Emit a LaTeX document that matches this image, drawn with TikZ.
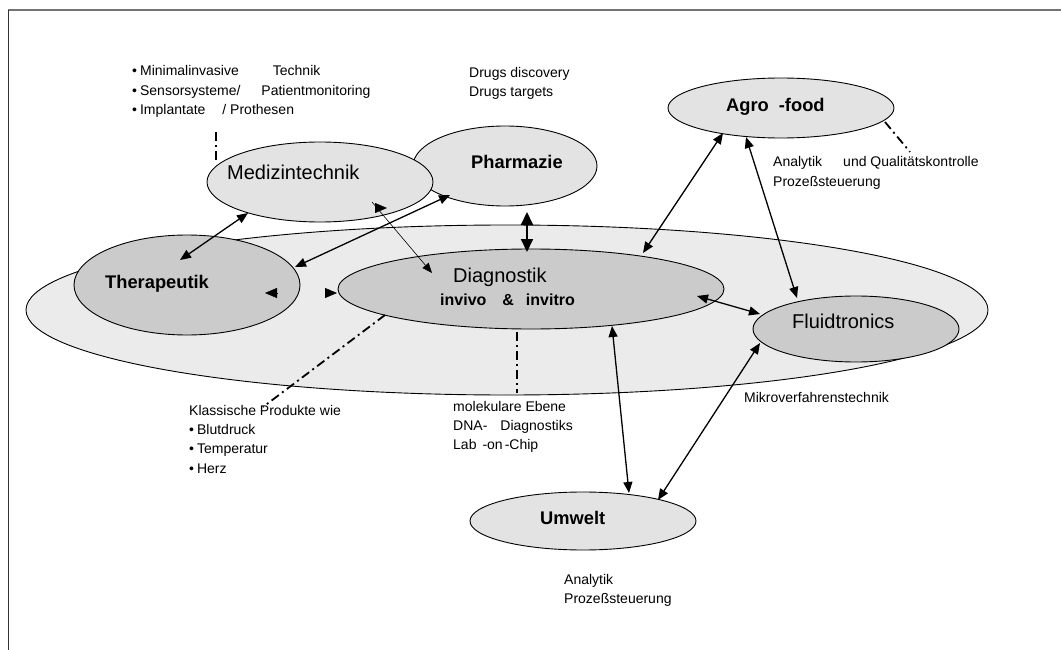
\documentclass[tikz,border=0pt]{standalone}
\usepackage{fontspec}
\setmainfont{Liberation Sans}
\usetikzlibrary{shapes.geometric,arrows.meta,calc}
\definecolor{fieldfill}{HTML}{EBEBEB}
\definecolor{dotdark}{HTML}{CBCBCB}
\definecolor{dotlight}{HTML}{E3E3E3}

\begin{document}
\begin{tikzpicture}[x=1pt,y=-1pt,
  blob/.style={ellipse, draw=black, line width=0.9pt, inner sep=0pt},
  darkblob/.style={blob, fill=dotdark},
  lightblob/.style={blob, fill=dotlight},
  lbl/.style={anchor=base west, inner sep=0pt, font=\fontsize{14}{17}\selectfont},
  bigtxt/.style={anchor=base west, inner sep=0pt, font=\fontsize{20}{24}\selectfont},
  bigbold/.style={anchor=base west, inner sep=0pt, font=\fontsize{18.3}{22}\selectfont\bfseries},
  link/.style={line width=1.3pt, {Triangle[length=11pt,width=9pt]}-{Triangle[length=11pt,width=9pt]}},
  heavylink/.style={line width=2pt, {Triangle[length=13pt,width=12pt]}-{Triangle[length=13pt,width=12pt]}},
  thinlink/.style={line width=0.6pt, -{Triangle[length=10pt,width=8pt]}},
  loneTip/.style={line width=0.4pt, -{Triangle[length=12pt,width=10pt]}},
  dashdot/.style={line width=1.8pt, dash pattern=on 9pt off 4pt on 2pt off 4pt},
]
\useasboundingbox (0,0) rectangle (1061,650);

% page frame
\draw[line width=1.5pt, color=black!55] (8,10) -- (1061,10);
\draw[line width=1.8pt, color=black!80] (8.5,10) -- (8.5,650);

% large background field
\node[blob, fill=fieldfill, minimum width=962pt, minimum height=170pt] (field) at (507,310) {};

% application areas
\node[darkblob, minimum width=226pt, minimum height=100pt] (ther) at (187,285) {};
\node[darkblob, minimum width=386pt, minimum height=80pt] (dia) at (531,289) {};
\node[darkblob, minimum width=206pt, minimum height=66pt] (flu) at (856,329) {};
\node[lightblob, minimum width=184pt, minimum height=80pt] (pha) at (505,166) {};
\node[lightblob, minimum width=226pt, minimum height=80pt] (med) at (320,182) {};
\node[lightblob, minimum width=226pt, minimum height=60pt] (agro) at (781,108) {};
\node[lightblob, minimum width=226pt, minimum height=58pt] (umw) at (583,521) {};

% titles
\node[bigtxt] (medL) at (227,180) {Medizintechnik};
\node[bigbold] (therL) at (105,288) {Therapeutik};
\node[bigbold] (phaL) at (471,168) {Pharmazie};
\node[bigtxt] (diaL) at (453,282) {Diagnostik};
\node[anchor=base west, inner sep=0pt, font=\fontsize{16}{19}\selectfont\bfseries] (diaS) at (440,305) {invivo\hspace{16pt}\&\hspace{12pt}invitro};
\node[bigtxt] (fluL) at (792,328) {Fluidtronics};
\node[bigbold] (agroL) at (726,112) {Agro\hspace{10pt}-food};
\node[bigbold] (umwL) at (540,524) {Umwelt};

% connections
\draw[link] ($(med)+(-72,31)$) -- ($(ther)+(-7,-25)$);
\draw[link] ($(pha)+(-55,29)$) -- ($(ther)+(108,-18)$);
\draw[thinlink] ($(med)+(52,20)$) -- ($(dia)+(-99,-16)$);
\draw[loneTip] ($(med)+(55,26)$) -- ($(med)+(67,26)$);
\draw[loneTip] ($(ther)+(90,8)$) -- ($(ther)+(78,8)$);
\draw[loneTip] ($(dia)+(-206,4)$) -- ($(dia)+(-194,4)$);
\draw[heavylink] ($(pha)+(22,46)$) -- ($(dia)+(-4,-37)$);
\draw[link] ($(agro)+(-58,25)$) -- ($(dia)+(112,-36)$);
\draw[link] ($(agro)+(-35,29)$) -- ($(flu)+(-59,-31)$);
\draw[link] ($(dia)+(166,7)$) -- ($(flu)+(-96,-15)$);
\draw[link] ($(flu)+(-96,14)$) -- ($(umw)+(75,-21)$);
\draw[link] ($(dia)+(81,37)$) -- ($(umw)+(46,-28)$);

% annotation texts
\node[lbl] (mi1) at (132,76) {•\hspace{3pt}Minimalinvasive\hspace{34pt}Technik};
\node[lbl] (mi2) at (132,96) {•\hspace{3pt}Sensorsysteme/\hspace{21pt}Patientmonitoring};
\node[lbl] (mi3) at (132,115) {•\hspace{3pt}Implantate\hspace{17pt}/ Prothesen};
\node[lbl] (dr1) at (469,78) {Drugs discovery};
\node[lbl] (dr2) at (469,97) {Drugs targets};
\node[lbl] (ag1) at (773,167) {Analytik\hspace{21pt}und Qualitätskontrolle};
\node[lbl] (ag2) at (773,186) {Prozeßsteuerung};
\node[lbl] (kl0) at (189,415) {Klassische Produkte wie};
\node[lbl] (kl1) at (189,434) {•\hspace{3pt}Blutdruck};
\node[lbl] (kl2) at (189,453) {•\hspace{3pt}Temperatur};
\node[lbl] (kl3) at (189,473) {•\hspace{3pt}Herz};
\node[lbl] (mo1) at (453,411) {molekulare Ebene};
\node[lbl] (mo2) at (453,430) {DNA-\hspace{13pt}Diagnostiks};
\node[lbl] (mo3) at (453,449) {Lab\hspace{6pt}-on\hspace{2pt}-Chip};
\node[lbl] (mik) at (744,402) {Mikroverfahrenstechnik};
\node[lbl] (um1) at (564,584) {Analytik};
\node[lbl] (um2) at (564,603) {Prozeßsteuerung};

% leader lines to the annotations
\draw[dashdot] ($(med)+(-104,-22)$) -- ($(mi3.base west)+(84,17)$);
\draw[dashdot] ($(agro)+(104,14)$) -- ($(ag1.base west)+(137,-15)$);
\draw[dashdot] ($(dia)+(-146,26)$) -- ($(kl0.base west)+(74,-8)$);
\draw[dashdot] ($(dia)+(-14,43)$) -- ($(mo1.base west)+(64,-18)$);
\end{tikzpicture}
\end{document}
